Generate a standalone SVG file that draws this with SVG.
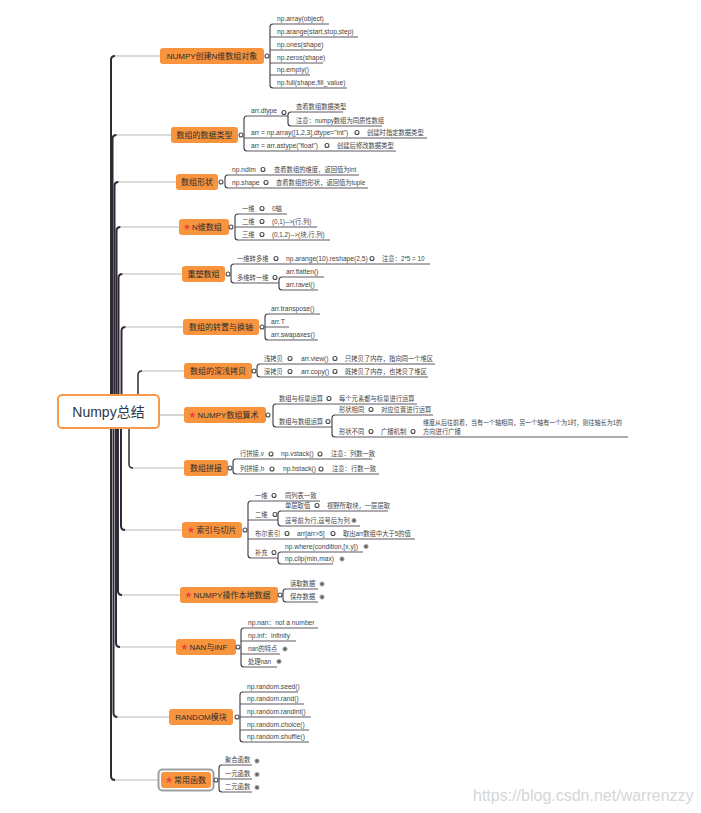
<svg xmlns="http://www.w3.org/2000/svg" width="701" height="813" viewBox="0 0 701 813">
<style>
text{font-family:"Liberation Sans","Noto Sans CJK SC",sans-serif}
.m{fill:#F8933E}
.mt{font-size:8px;fill:#2d2d2d}
.t{font-size:6.3px;fill:#444}
.l{font-size:6.7px}
.rt{font-size:14px;fill:#2b3a4a}
.tr{stroke:#2f2a35;stroke-width:2;fill:none}
.th{stroke:#b8b8b8;stroke-width:1.2}
.br{stroke:#3d3842;stroke-width:1.1;fill:none}
.ul{stroke:#4a4550;stroke-width:0.9}
.ce{fill:#fff;stroke:#4a4a4a;stroke-width:1.1}
.cc{fill:#666;stroke:#bbb;stroke-width:0.9}
.wm{font-size:16px;fill:#d6d6d6}
</style>
<defs>
<path id="star" d="M0,-3.6L0.85,-1.17L3.42,-1.11L1.38,0.45L2.12,2.91L0,1.45L-2.12,2.91L-1.38,0.45L-3.42,-1.11L-0.85,-1.17Z" fill="#E8463A"/>
</defs>
<rect width="701" height="813" fill="#fff"/>
<g id="connectors">
<path class="tr" d="M111,411V60Q111,56 115,56"/><line class="th" x1="115" y1="56" x2="160" y2="56"/>
<path class="tr" d="M112.5,411V139Q112.5,135 116.5,135"/><line class="th" x1="116.5" y1="135" x2="171" y2="135"/>
<path class="tr" d="M114.5,411V186Q114.5,182 118.5,182"/><line class="th" x1="118.5" y1="182" x2="176" y2="182"/>
<path class="tr" d="M116.5,411V231Q116.5,227 120.5,227"/><line class="th" x1="120.5" y1="227" x2="179" y2="227"/>
<path class="tr" d="M118.5,411V278Q118.5,274 122.5,274"/><line class="th" x1="122.5" y1="274" x2="182" y2="274"/>
<path class="tr" d="M121.5,411V331Q121.5,327 125.5,327"/><line class="th" x1="125.5" y1="327" x2="183" y2="327"/>
<path class="tr" style="stroke-width:1.5" d="M138,411V375Q138,371 142,371"/><line class="th" x1="142" y1="371" x2="184" y2="371"/>
<line class="th" x1="159" y1="415" x2="184" y2="415"/>
<path class="tr" style="stroke-width:1.5" d="M129,411V464Q129,468 133,468"/><line class="th" x1="133" y1="468" x2="184" y2="468"/>
<path class="tr" d="M121,411V526Q121,530 125,530"/><line class="th" x1="125" y1="530" x2="182" y2="530"/>
<path class="tr" d="M118,411V591Q118,595 122,595"/><line class="th" x1="122" y1="595" x2="180" y2="595"/>
<path class="tr" d="M116,411V643Q116,647 120,647"/><line class="th" x1="120" y1="647" x2="176" y2="647"/>
<path class="tr" d="M113.5,411V713Q113.5,717 117.5,717"/><line class="th" x1="117.5" y1="717" x2="169" y2="717"/>
<path class="tr" d="M111,411V776Q111,780 115,780"/><line class="th" x1="115" y1="780" x2="158" y2="780"/>

<path class="br" d="M273,24Q270,24 270,27V85Q270,88 273,88"/>
<line class="ul" x1="273" y1="24" x2="329" y2="24"/><line class="ul" x1="270" y1="37" x2="358" y2="37"/>
<line class="ul" x1="270" y1="50" x2="322" y2="50"/><line class="ul" x1="270" y1="63" x2="323" y2="63"/>
<line class="ul" x1="270" y1="75" x2="310" y2="75"/><line class="ul" x1="273" y1="88" x2="347" y2="88"/>

<path class="br" d="M247,116Q244,116 244,119V148Q244,151 247,151"/>
<line class="ul" x1="247" y1="116" x2="288" y2="116"/><line class="ul" x1="244" y1="138" x2="427" y2="138"/><line class="ul" x1="247" y1="151" x2="396" y2="151"/>
<path class="br" d="M291,112Q288,112 288,115V123Q288,126 291,126"/>
<line class="ul" x1="291" y1="112" x2="343" y2="112"/><line class="ul" x1="291" y1="126" x2="382" y2="126"/>

<path class="br" d="M228,175Q225,175 225,178V185Q225,188 228,188"/>
<line class="ul" x1="228" y1="175" x2="359" y2="175"/><line class="ul" x1="228" y1="188" x2="368" y2="188"/>

<path class="br" d="M238,214Q235,214 235,217V237Q235,240 238,240"/>
<line class="ul" x1="238" y1="214" x2="287" y2="214"/><line class="ul" x1="235" y1="227" x2="317" y2="227"/><line class="ul" x1="238" y1="240" x2="330" y2="240"/>

<path class="br" d="M234,264Q231,264 231,267V280Q231,283 234,283"/>
<line class="ul" x1="234" y1="264" x2="430" y2="264"/><line class="ul" x1="234" y1="283" x2="279" y2="283"/>
<path class="br" d="M282,277Q279,277 279,280V287Q279,290 282,290"/>
<line class="ul" x1="282" y1="277" x2="324" y2="277"/><line class="ul" x1="282" y1="290" x2="318" y2="290"/>

<path class="br" d="M268,314Q265,314 265,317V337Q265,340 268,340"/>
<line class="ul" x1="268" y1="314" x2="320" y2="314"/><line class="ul" x1="265" y1="327" x2="289" y2="327"/><line class="ul" x1="268" y1="340" x2="318" y2="340"/>

<path class="br" d="M260,364Q257,364 257,367V374Q257,377 260,377"/>
<line class="ul" x1="260" y1="364" x2="435" y2="364"/><line class="ul" x1="260" y1="377" x2="428" y2="377"/>

<path class="br" d="M276,404Q273,404 273,407V424Q273,427 276,427"/>
<line class="ul" x1="276" y1="404" x2="417" y2="404"/><line class="ul" x1="276" y1="427" x2="332" y2="427"/>
<path class="br" d="M335,415Q332,415 332,418V434Q332,437 335,437"/>
<line class="ul" x1="335" y1="415" x2="433" y2="415"/><line class="ul" x1="335" y1="437" x2="628" y2="437"/>

<path class="br" d="M236,459Q233,459 233,462V471Q233,474 236,474"/>
<line class="ul" x1="236" y1="459" x2="372" y2="459"/><line class="ul" x1="236" y1="474" x2="379" y2="474"/>

<path class="br" d="M251,501Q248,501 248,504V555Q248,558 251,558"/>
<line class="ul" x1="251" y1="501" x2="320" y2="501"/><line class="ul" x1="248" y1="520" x2="278" y2="520"/>
<line class="ul" x1="248" y1="539" x2="415" y2="539"/><line class="ul" x1="251" y1="558" x2="278" y2="558"/>
<path class="br" d="M281,511Q278,511 278,514V523Q278,526 281,526"/>
<line class="ul" x1="281" y1="511" x2="388" y2="511"/><line class="ul" x1="281" y1="526" x2="360" y2="526"/>
<path class="br" d="M281,552Q278,552 278,555V561Q278,564 281,564"/>
<line class="ul" x1="281" y1="552" x2="363" y2="552"/><line class="ul" x1="281" y1="564" x2="333" y2="564"/>

<path class="br" d="M286,589Q283,589 283,592V599Q283,602 286,602"/>
<line class="ul" x1="286" y1="589" x2="318" y2="589"/><line class="ul" x1="286" y1="602" x2="318" y2="602"/>

<path class="br" d="M244,628Q241,628 241,631V664Q241,667 244,667"/>
<line class="ul" x1="244" y1="628" x2="318" y2="628"/><line class="ul" x1="241" y1="641" x2="296" y2="641"/>
<line class="ul" x1="241" y1="654" x2="280" y2="654"/><line class="ul" x1="244" y1="667" x2="277" y2="667"/>

<path class="br" d="M243,692Q240,692 240,695V739Q240,742 243,742"/>
<line class="ul" x1="243" y1="692" x2="298" y2="692"/><line class="ul" x1="240" y1="704" x2="304" y2="704"/>
<line class="ul" x1="240" y1="717" x2="311" y2="717"/><line class="ul" x1="240" y1="730" x2="309" y2="730"/>
<line class="ul" x1="243" y1="742" x2="309" y2="742"/>

<path class="br" d="M222,765Q219,765 219,768V789Q219,792 222,792"/>
<line class="ul" x1="222" y1="765" x2="252" y2="765"/><line class="ul" x1="219" y1="779" x2="252" y2="779"/><line class="ul" x1="222" y1="792" x2="252" y2="792"/>
</g>

<g id="root">
<rect x="58" y="395" width="101" height="33" rx="4" fill="#fff" stroke="#F59A4A" stroke-width="2"/>
<text class="rt" x="108.5" y="416.5" text-anchor="middle">Numpy总结</text>
</g>

<g id="n1">
<rect class="m" x="160" y="48" width="104" height="16" rx="3"/>
<text class="mt" x="212" y="58.8" text-anchor="middle">NUMPY创建N维数组对象</text>
<circle class="ce" cx="267" cy="56" r="2"/>
<g id="n1-c">
<text class="t l" x="277" y="20.8">np.array(object)</text>
<text class="t l" x="277" y="33.8">np.arange(start,stop,step)</text>
<text class="t l" x="277" y="46.8">np.ones(shape)</text>
<text class="t l" x="277" y="59.8">np.zeros(shape)</text>
<text class="t l" x="277" y="71.8">np.empty()</text>
<text class="t l" x="277" y="84.8">np.full(shape,fill_value)</text>
</g>
</g>

<g id="n2">
<rect class="m" x="171" y="127" width="67" height="16" rx="3"/>
<text class="mt" x="204.5" y="137.8" text-anchor="middle">数组的数据类型</text>
<circle class="ce" cx="241" cy="135" r="2"/>
<g id="n2-c">
<text class="t l" x="251" y="112.8">arr.dtype</text><circle class="ce" cx="284" cy="112.5" r="2"/>
<text class="t" x="296" y="108.8">查看数组数据类型</text>
<text class="t" x="296" y="122.8">注意：numpy数组为同质性数组</text>
<text class="t l" x="251" y="134.8">arr = np.array([1,2,3],dtype="int")</text><circle class="ce" cx="357" cy="132.5" r="2"/>
<text class="t" x="367" y="134.8">创建时指定数据类型</text>
<text class="t l" x="251" y="147.8">arr = arr.astype("float")</text><circle class="ce" cx="327" cy="145.5" r="2"/>
<text class="t" x="337" y="147.8">创建后修改数据类型</text>
</g>
</g>

<g id="n3">
<rect class="m" x="176" y="174" width="42" height="16" rx="3"/>
<text class="mt" x="197" y="184.8" text-anchor="middle">数组形状</text>
<circle class="ce" cx="221" cy="182" r="2"/>
<g id="n3-c">
<text class="t l" x="232" y="171.8">np.ndim</text><circle class="ce" cx="263" cy="169.5" r="2"/>
<text class="t" x="274" y="171.8">查看数组的维度，返回值为int</text>
<text class="t l" x="232" y="184.8">np.shape</text><circle class="ce" cx="266" cy="182.5" r="2"/>
<text class="t" x="276" y="184.8">查看数组的形状，返回值为tuple</text>
</g>
</g>

<g id="n4">
<rect class="m" x="179" y="219" width="50" height="16" rx="3"/>
<use href="#star" x="187" y="227"/>
<text class="mt" x="192" y="229.8">N维数组</text>
<circle class="ce" cx="231" cy="227" r="2"/>
<g id="n4-c">
<text class="t" x="242" y="210.8">一维</text><circle class="ce" cx="262" cy="208.5" r="2"/><text class="t" x="272" y="210.8">0轴</text>
<text class="t" x="242" y="223.8">二维</text><circle class="ce" cx="262" cy="221.5" r="2"/><text class="t" x="272" y="223.8">(0,1)--&gt;(行,列)</text>
<text class="t" x="242" y="236.8">三维</text><circle class="ce" cx="262" cy="234.5" r="2"/><text class="t" x="272" y="236.8">(0,1,2)--&gt;(块,行,列)</text>
</g>
</g>

<g id="n5">
<rect class="m" x="182" y="266" width="43" height="16" rx="3"/>
<text class="mt" x="203.5" y="276.8" text-anchor="middle">重塑数组</text>
<circle class="ce" cx="228" cy="274" r="2"/>
<g id="n5-c">
<text class="t" x="237" y="260.8">一维转多维</text><circle class="ce" cx="276" cy="258.5" r="2"/>
<text class="t l" x="286" y="260.8">np.arange(10).reshape(2,5)</text><circle class="ce" cx="372" cy="258.5" r="2"/>
<text class="t" x="382" y="260.8">注意：2*5 = 10</text>
<text class="t" x="237" y="279.8">多维转一维</text><circle class="ce" cx="275" cy="277.5" r="2"/>
<text class="t l" x="286" y="273.8">arr.flatten()</text>
<text class="t l" x="286" y="286.8">arr.ravel()</text>
</g>
</g>

<g id="n6">
<rect class="m" x="183" y="319" width="76" height="16" rx="3"/>
<text class="mt" x="221" y="329.8" text-anchor="middle">数组的转置与换轴</text>
<circle class="ce" cx="262" cy="327" r="2"/>
<g id="n6-c">
<text class="t l" x="271" y="310.8">arr.transpose()</text>
<text class="t l" x="271" y="323.8">arr.T</text>
<text class="t l" x="271" y="336.8">arr.swapaxes()</text>
</g>
</g>

<g id="n7">
<rect class="m" x="184" y="363" width="68" height="16" rx="3"/>
<text class="mt" x="218" y="373.8" text-anchor="middle">数组的深浅拷贝</text>
<circle class="ce" cx="254" cy="371" r="2"/>
<g id="n7-c">
<text class="t" x="264" y="360.8">浅拷贝</text><circle class="ce" cx="290" cy="358.5" r="2"/>
<text class="t l" x="301" y="360.8">arr.view()</text><circle class="ce" cx="335" cy="358.5" r="2"/>
<text class="t" x="345" y="360.8">只拷贝了内存，指向同一个堆区</text>
<text class="t" x="264" y="373.8">深拷贝</text><circle class="ce" cx="290" cy="371.5" r="2"/>
<text class="t l" x="301" y="373.8">arr.copy()</text><circle class="ce" cx="335" cy="371.5" r="2"/>
<text class="t" x="345" y="373.8">既拷贝了内存，也拷贝了堆区</text>
</g>
</g>

<g id="n8">
<rect class="m" x="184" y="407" width="82" height="16" rx="3"/>
<use href="#star" x="192.5" y="415"/>
<text class="mt" x="197.5" y="417.8">NUMPY数组算术</text>
<circle class="ce" cx="268" cy="415" r="2"/>
<g id="n8-c">
<text class="t" x="279" y="400.8">数组与标量运算</text><circle class="ce" cx="329" cy="398.5" r="2"/>
<text class="t" x="339" y="400.8">每个元素都与标量进行运算</text>
<text class="t" x="279" y="423.8">数组与数组运算</text><circle class="ce" cx="328" cy="421.5" r="2"/>
<text class="t" x="339" y="411.8">形状相同</text><circle class="ce" cx="371" cy="409.5" r="2"/>
<text class="t" x="381" y="411.8">对应位置进行运算</text>
<text class="t" x="339" y="433.8">形状不同</text><circle class="ce" cx="371" cy="431.5" r="2"/>
<text class="t" x="381" y="433.8">广播机制</text><circle class="ce" cx="413" cy="431.5" r="2"/>
<text class="t" x="423" y="424.8" textLength="199" lengthAdjust="spacingAndGlyphs">维度从后往前看，当有一个轴相同，另一个轴有一个为1时，则往轴长为1的</text>
<text class="t" x="423" y="433.8">方向进行广播</text>
</g>
</g>

<g id="n9">
<rect class="m" x="184" y="460" width="44" height="16" rx="3"/>
<text class="mt" x="206" y="470.8" text-anchor="middle">数组拼接</text>
<circle class="ce" cx="230" cy="468" r="2"/>
<g id="n9-c">
<text class="t" x="240" y="455.8">行拼接,v</text><circle class="ce" cx="271" cy="454" r="2"/>
<text class="t l" x="281" y="455.8">np.vstack()</text><circle class="ce" cx="320" cy="454" r="2"/>
<text class="t" x="331" y="455.8">注意：列数一致</text>
<text class="t" x="240" y="470.8">列拼接,h</text><circle class="ce" cx="272" cy="469" r="2"/>
<text class="t l" x="283" y="470.8">np.hstack()</text><circle class="ce" cx="321" cy="469" r="2"/>
<text class="t" x="332" y="470.8">注意：行数一致</text>
</g>
</g>

<g id="n10">
<rect class="m" x="182" y="522" width="60" height="16" rx="3"/>
<use href="#star" x="191" y="530"/>
<text class="mt" x="196.5" y="532.8">索引与切片</text>
<circle class="ce" cx="245" cy="530" r="2"/>
<g id="n10-c">
<text class="t" x="255" y="497.8">一维</text><circle class="ce" cx="274" cy="495.5" r="2"/>
<text class="t" x="285" y="497.8">同列表一致</text>
<text class="t" x="255" y="516.8">二维</text><circle class="ce" cx="275" cy="514.5" r="2"/>
<text class="t" x="285" y="507.8">单层取值</text><circle class="ce" cx="317" cy="505.5" r="2"/>
<text class="t" x="327" y="507.8">视野所取块，一层层取</text>
<text class="t" x="285" y="522.8">逗号前为行,逗号后为列</text><circle class="cc" cx="354" cy="520.5" r="2.2"/>
<text class="t" x="255" y="535.8">布尔索引</text><circle class="ce" cx="287" cy="533.5" r="2"/>
<text class="t l" x="297" y="535.8">arr[arr&gt;5]</text><circle class="ce" cx="333" cy="533.5" r="2"/>
<text class="t" x="343" y="535.8">取出arr数组中大于5的值</text>
<text class="t" x="255" y="554.8">补充</text><circle class="ce" cx="274" cy="552.5" r="2"/>
<text class="t l" x="285" y="548.8">np.where(condition,[x,y])</text><circle class="cc" cx="366" cy="546.5" r="2.2"/>
<text class="t l" x="285" y="560.8">np.clip(min,max)</text><circle class="cc" cx="342" cy="559" r="2.2"/>
</g>
</g>

<g id="n11">
<rect class="m" x="180" y="587" width="98" height="16" rx="3"/>
<use href="#star" x="188.5" y="595"/>
<text class="mt" x="193.5" y="597.8">NUMPY操作本地数据</text>
<circle class="ce" cx="280" cy="595" r="2"/>
<g id="n11-c">
<text class="t" x="290" y="585.8">读取数据</text><circle class="cc" cx="322" cy="584" r="2.2"/>
<text class="t" x="290" y="598.8">保存数据</text><circle class="cc" cx="322" cy="597" r="2.2"/>
</g>
</g>

<g id="n12">
<rect class="m" x="176" y="639" width="60" height="16" rx="3"/>
<use href="#star" x="184.5" y="647"/>
<text class="mt" x="189.5" y="649.8">NAN与INF</text>
<circle class="ce" cx="238" cy="647" r="2"/>
<g id="n12-c">
<text class="t l" x="248" y="624.8">np.nan：not a number</text>
<text class="t l" x="248" y="637.8">np.inf：infinity</text>
<text class="t" x="248" y="650.8">nan的特点</text><circle class="cc" cx="285" cy="649" r="2.2"/>
<text class="t" x="248" y="663.8">处理nan</text><circle class="cc" cx="279" cy="661.5" r="2.2"/>
</g>
</g>

<g id="n13">
<rect class="m" x="169" y="709" width="64" height="16" rx="3"/>
<text class="mt" x="201" y="719.8" text-anchor="middle">RANDOM模块</text>
<circle class="ce" cx="237" cy="717" r="2"/>
<g id="n13-c">
<text class="t l" x="247" y="688.8">np.random.seed()</text>
<text class="t l" x="247" y="700.8">np.random.rand()</text>
<text class="t l" x="247" y="713.8">np.random.randint()</text>
<text class="t l" x="247" y="726.8">np.random.choice()</text>
<text class="t l" x="247" y="738.8">np.random.shuffle()</text>
</g>
</g>

<g id="n14">
<rect x="158.5" y="769.5" width="55" height="21" rx="4" fill="none" stroke="#a0a0a0" stroke-width="2"/>
<rect class="m" x="161" y="772" width="50" height="16" rx="3"/>
<use href="#star" x="169" y="780"/>
<text class="mt" x="174" y="782.8">常用函数</text>
<circle class="ce" cx="216" cy="780" r="2"/>
<g id="n14-c">
<text class="t" x="225" y="761.8">聚合函数</text><circle class="cc" cx="257" cy="761" r="2.2"/>
<text class="t" x="225" y="775.8">一元函数</text><circle class="cc" cx="257" cy="774.5" r="2.2"/>
<text class="t" x="225" y="788.8">二元函数</text><circle class="cc" cx="257" cy="787.5" r="2.2"/>
</g>
</g>

<text class="wm" x="473" y="801">https://blog.csdn.net/warrenzzy</text>
</svg>
